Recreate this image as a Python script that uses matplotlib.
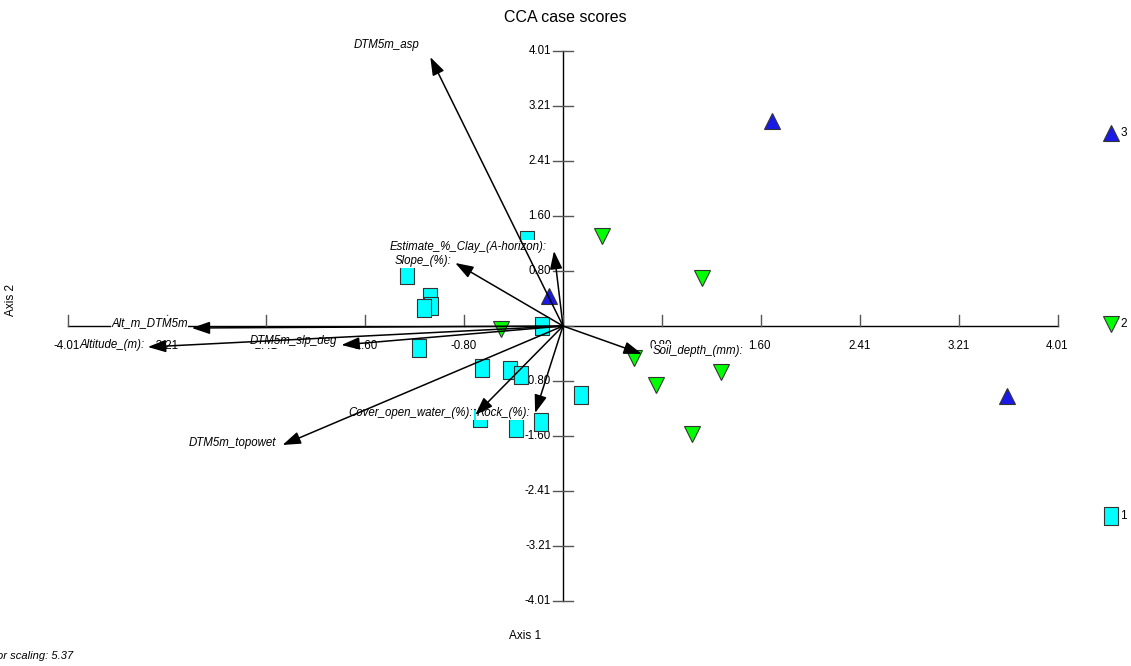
import matplotlib
matplotlib.use("Agg")
import matplotlib.pyplot as plt

plt.rcParams['font.family'] = ['Liberation Sans', 'DejaVu Sans']

# ---------------- data ----------------
tick_values = [-4.01, -3.21, -2.41, -1.60, -0.80, 0.0, 0.80, 1.60, 2.41, 3.21, 4.01]
tick_labels = ["-4.01", "-3.21", "-2.41", "-1.60", "-0.80", "", "0.80", "1.60", "2.41", "3.21", "4.01"]

g1_x = [-0.291, -1.261, -1.075, -1.067, -1.124, -0.170, -1.164, -0.655, -0.428, -0.340, -0.671, -0.380, -0.178, 0.146]
g1_y = [1.254, 0.744, 0.423, 0.292, 0.262, 0.000, -0.321, -0.612, -0.642, -0.714, -1.342, -1.487, -1.400, -1.006]

g2_x = [0.315, 1.124, -0.501, 0.574, 0.752, 1.277, 1.043]
g2_y = [1.312, 0.700, -0.044, -0.467, -0.860, -0.671, -1.575]

g3_x = [1.690, -0.113, 3.598]
g3_y = [2.989, 0.437, -1.021]

group_names = ["1", "2", "3"]

vec_names = ["DTM5m_asp", "Estimate_%_Clay_(A-horizon):", "Slope_(%):", "Alt_m_DTM5m",
             "Altitude_(m):", "DTM5m_slp_deg", "DTM5m_topowet", "Cover_open_water_(%):",
             "Rock_(%):", "Soil_depth_(mm):"]
vec_x = [-1.075, -0.073, -0.873, -3.007, -3.363, -1.795, -2.272, -0.711, -0.226, 0.639]
vec_y = [3.922, 1.094, 0.919, -0.029, -0.306, -0.277, -1.735, -1.298, -1.269, -0.408]

title = "CCA case scores"
xlabel = "Axis 1"
ylabel = "Axis 2"
note = "Vector scaling: 5.37"

# ---------------- layout ----------------
W, H = 1131, 666
ox, oy = 563, 326          # origin pixel
sx = 495.0 / 4.01          # px per unit x
sy = 275.0 / 4.01          # px per unit y

fig = plt.figure(figsize=(W / 100, H / 100), dpi=100)
ax = fig.add_axes([0, 0, 1, 1])
ax.set_xlim(-ox / sx, (W - ox) / sx)
ax.set_ylim(-(H - oy) / sy, oy / sy)
ax.axis('off')

# axis lines
lo, hi = tick_values[0], tick_values[-1]
ax.plot([lo, hi], [0, 0], color='black', lw=1.0, zorder=3)
ax.plot([0, 0], [lo, hi], color='black', lw=1.0, zorder=3)
tx = 11 / sy
ty = 10 / sx
for v, lab in zip(tick_values, tick_labels):
    ax.plot([v, v], [0, tx], color='#555555', lw=1.0, zorder=3)
    ax.plot([-ty, ty], [v, v], color='#555555', lw=1.0, zorder=3)
    if lab:
        ax.annotate(lab, (v, 0), xytext=(-1, -20), textcoords='offset pixels',
                    ha='center', va='center', fontsize=8.3, zorder=2)
        ax.annotate(lab, (0, v), xytext=(-12, 0), textcoords='offset pixels',
                    ha='right', va='center', fontsize=8.3, zorder=2)

# points
rect = [(-0.41, -0.5), (0.41, -0.5), (0.41, 0.5), (-0.41, 0.5), (-0.41, -0.5)]
ax.plot(g1_x, g1_y, ls='none', marker=rect, ms=12.4, mfc='#00ffff', mec='#333333', mew=0.8, zorder=2)
ax.plot(g2_x, g2_y, ls='none', marker='v', ms=11.5, mfc='#00ff00', mec='#333333', mew=0.8, zorder=2)
ax.plot(g3_x, g3_y, ls='none', marker='^', ms=11.5, mfc='#1a1ae6', mec='#333333', mew=0.8, zorder=2)

# legend at right edge
leg_styles = [(rect, 12.4, '#00ffff', 0.2252), ('v', 11.5, '#00ff00', 0.5135), ('^', 11.5, '#1a1ae6', 0.8003)]
for name, (mk, ms, fc, yy) in zip(group_names, leg_styles):
    ax.plot([0.9823], [yy], transform=ax.transAxes, ls='none', marker=mk, ms=ms,
            mfc=fc, mec='#333333', mew=0.8, zorder=2, clip_on=False)
    ax.text(0.9905, yy, name, transform=ax.transAxes, ha='left', va='center', fontsize=8.5)

# vectors
label_offsets = [(-11, 12, 'right'), (-7, 4, 'right'), (-4, 2, 'right'), (-4, 5, 'right'),
                 (-3, 2, 'right'), (-4, 4, 'right'), (-6, 2, 'right'), (-2, 2, 'right'),
                 (-5, 0, 'right'), (11, 3, 'left')]
for name, vx, vy, (dx, dy, ha) in zip(vec_names, vec_x, vec_y, label_offsets):
    ax.annotate('', xy=(vx, vy), xytext=(0, 0),
                arrowprops=dict(arrowstyle='-|>,head_length=11,head_width=3.8', mutation_scale=1,
                                color='black', lw=1.1, shrinkA=0, shrinkB=0), zorder=5)
    ax.annotate(name, (vx, vy), xytext=(dx, dy), textcoords='offset pixels',
                ha=ha, va='center', fontsize=8.3, style='italic', zorder=4,
                bbox=dict(boxstyle='square,pad=0.05', fc='white', ec='none'))

fig.text(565 / W, 1 - 17 / H, title, ha='center', va='center', fontsize=11.5)
fig.text(525 / W, 1 - 636 / H, xlabel, ha='center', va='center', fontsize=8.5)
fig.text(11 / W, 1 - 300 / H, ylabel, ha='center', va='center', fontsize=8.5, rotation=90)
fig.text(73 / W, 1 - 656 / H, note, ha='right', va='center', fontsize=8, style='italic')

fig.savefig('out.png', dpi=100)
